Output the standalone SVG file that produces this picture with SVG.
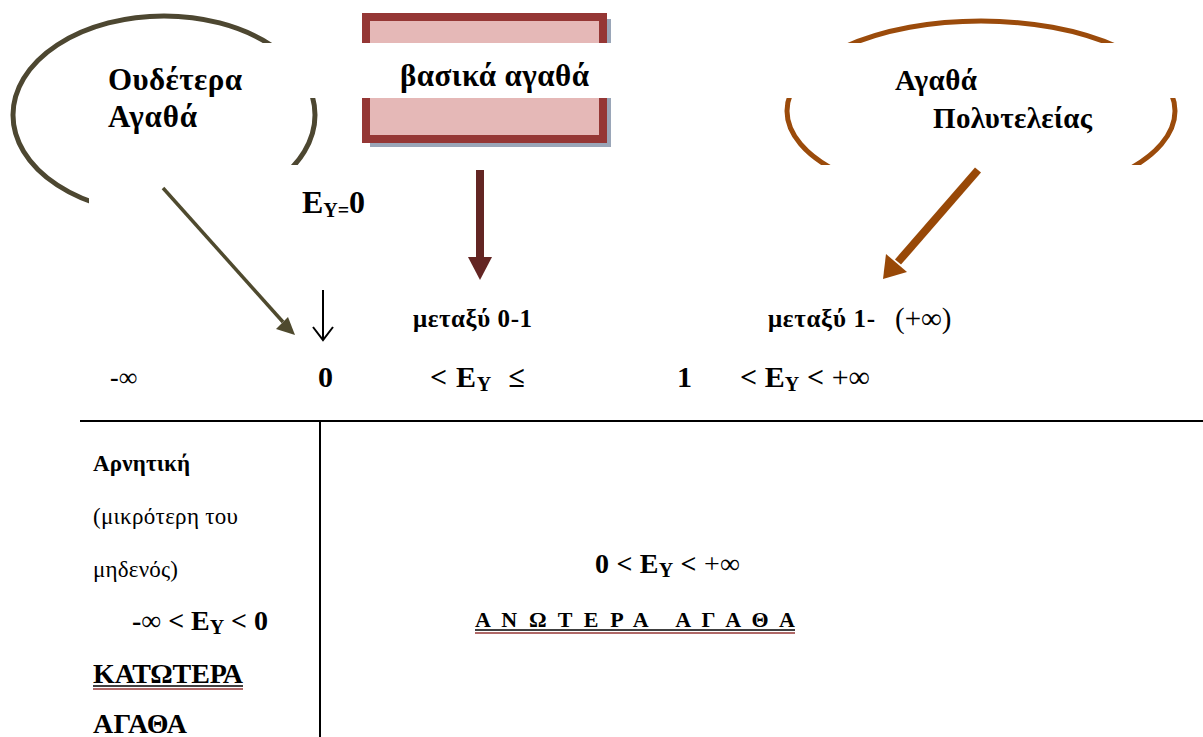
<svg xmlns="http://www.w3.org/2000/svg" width="1203" height="737" viewBox="0 0 1203 737">
<style>
text{font-family:"Liberation Serif","Times New Roman",serif;fill:#000}
.b{font-weight:bold}
.n{font-weight:normal}
.sub{font-size:20px}
</style>
<defs>
<clipPath id="cut">
<rect x="0" y="0" width="1203" height="43"/>
<rect x="0" y="98" width="1203" height="67"/>
<rect x="0" y="0" width="89" height="737"/>
</clipPath>
</defs>
<rect width="1203" height="737" fill="#fff"/>
<g id="node-neutral">
<ellipse cx="164" cy="115" rx="151" ry="99" fill="none" stroke="#4d4731" stroke-width="5" clip-path="url(#cut)"/>
<text class="b" x="108" y="90" font-size="31px" textLength="134">Ουδέτερα</text>
<text class="b" x="108" y="127" font-size="31px" textLength="89">Αγαθά</text>
</g>
<g id="node-basic">
<g clip-path="url(#cut)">
<rect x="370" y="19" width="241" height="128" fill="#9aa6b8"/>
<rect x="366" y="17" width="237" height="122" fill="#e5b8b7" stroke="#953735" stroke-width="8"/>
</g>
<text class="b" x="400" y="86" font-size="31px" textLength="189">βασικά αγαθά</text>
</g>
<g id="node-luxury">
<ellipse cx="981" cy="111" rx="194" ry="90" fill="none" stroke="#9b4b0b" stroke-width="5" clip-path="url(#cut)"/>
<text class="b" x="895" y="90" font-size="29px" textLength="82">Αγαθά</text>
<text class="b" x="933" y="128" font-size="29px" textLength="159">Πολυτελείας</text>
</g>
<g id="connectors">
<line x1="163" y1="188" x2="283" y2="322" stroke="#4f4a2e" stroke-width="3.5"/>
<polygon points="295,335 276,329 288,317" fill="#4f4a2e"/>
<line x1="480" y1="170" x2="480" y2="258" stroke="#632523" stroke-width="8"/>
<polygon points="468,257 492,257 480,280" fill="#632523"/>
<line x1="978" y1="170" x2="898" y2="262" stroke="#984807" stroke-width="8"/>
<polygon points="883,279 886,254 907,272" fill="#984807"/>
<line x1="323" y1="290" x2="323" y2="339" stroke="#000" stroke-width="2"/>
<polyline points="313,327 323,340 333,327" fill="none" stroke="#000" stroke-width="2"/>
</g>
<g id="labels">
<text class="b" x="302" y="213" font-size="32px" textLength="63">E<tspan class="sub" dy="4">Y=</tspan><tspan dy="-4">0</tspan></text>
<text class="b" x="413" y="327" font-size="25px" textLength="119">μεταξύ 0-1</text>
<text class="b" x="768" y="327" font-size="25px" textLength="107">μεταξύ 1-</text>
<text class="n" x="895" y="328" font-size="29px">(+∞)</text>
<text x="110" y="386" font-size="26px"><tspan class="b">-</tspan>∞</text>
<text class="b" x="318" y="387" font-size="30px">0</text>
<text class="b" x="430" y="387" font-size="30px" textLength="95" xml:space="preserve">&lt; E<tspan class="sub" dy="4">Y</tspan><tspan dy="-4">  ≤</tspan></text>
<text class="b" x="677" y="387" font-size="30px">1</text>
<text class="b" x="740" y="387" font-size="30px" textLength="130">&lt; E<tspan class="sub" dy="4">Y</tspan><tspan dy="-4"> &lt; </tspan><tspan class="n">+∞</tspan></text>
</g>
<g id="table">
<line x1="80" y1="421" x2="1203" y2="421" stroke="#000" stroke-width="2"/>
<line x1="320" y1="421" x2="320" y2="737" stroke="#000" stroke-width="2"/>
</g>
<g id="left-cell">
<text class="b" x="93" y="471" font-size="23px" textLength="97">Αρνητική</text>
<text x="93" y="524" font-size="23px" textLength="145">(μικρότερη του</text>
<text x="93" y="577" font-size="23px" textLength="85">μηδενός)</text>
<text class="b" x="132" y="630" font-size="28px" textLength="136">-<tspan class="n">∞</tspan> &lt; E<tspan class="sub" dy="4">Y</tspan><tspan dy="-4"> &lt; 0</tspan></text>
<text class="b" x="93" y="683" font-size="28px" textLength="150">ΚΑΤΩΤΕΡΑ</text>
<line x1="93" y1="686" x2="243" y2="686" stroke="#000" stroke-width="1.5"/>
<line x1="93" y1="689" x2="243" y2="689" stroke="#943634" stroke-width="1.5"/>
<text class="b" x="93" y="733" font-size="28px" textLength="94">ΑΓΑΘΑ</text>
</g>
<g id="right-cell">
<text class="b" x="595" y="573" font-size="28px" textLength="145">0 &lt; E<tspan class="sub" dy="4">Y</tspan><tspan dy="-4"> &lt; </tspan><tspan class="n">+∞</tspan></text>
<text class="b" x="475" y="627" font-size="22px" textLength="320" xml:space="preserve">Α Ν Ω Τ Ε Ρ Α   Α Γ Α Θ Α</text>
<line x1="475" y1="630" x2="795" y2="630" stroke="#000" stroke-width="1.5"/>
<line x1="475" y1="633" x2="795" y2="633" stroke="#943634" stroke-width="1.5"/>
</g>
</svg>
